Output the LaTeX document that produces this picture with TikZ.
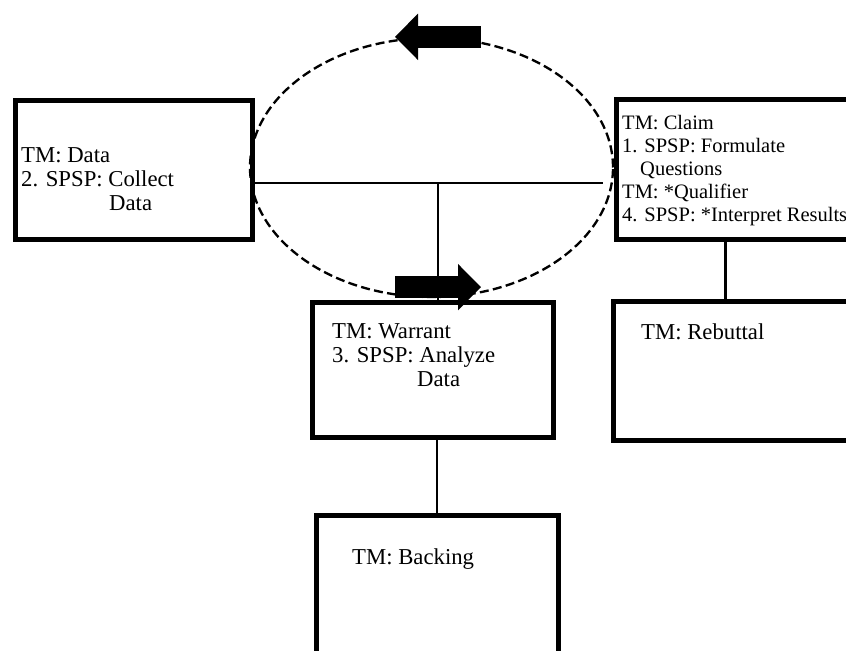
\documentclass[tikz,border=0pt]{standalone}
\usepackage{fontspec}
\setmainfont{Liberation Serif}
\usetikzlibrary{shapes.geometric, arrows.meta, calc}

\begin{document}
\begin{tikzpicture}[
    x=0.3mm, y=-0.3mm,
    tmbox/.style={rectangle, draw, line width=1.5mm, inner sep=0pt},
    tmtext/.style={anchor=north west, inner sep=0pt, align=left, font=\fontsize{19.4}{20.5}\selectfont},
    claimtext/.style={tmtext, font=\fontsize{17.5}{19.6}\selectfont},
    loopring/.style={ellipse, draw, line width=0.7mm, dash pattern=on 2.7mm off 1.3mm, inner sep=0pt},
    link/.style={line width=0.7mm},
    bigarrow/.style={line width=6.6mm, -{Triangle[length=6.9mm, width=13.5mm]}}
]

\useasboundingbox (0,0) rectangle (846,651);
\clip (0,0) rectangle (846,651);

% === Boxes ===
\node[tmbox, minimum width=70.8mm, minimum height=41.4mm] (data) at (134,170) {};
\node[tmbox, minimum width=85.2mm, minimum height=41.7mm] (claim) at (758,169.5) {};
\node[tmbox, minimum width=72.3mm, minimum height=40.5mm] (warrant) at (432.5,369.5) {};
\node[tmbox, minimum width=86.1mm, minimum height=41.7mm] (rebuttal) at (756.5,370.5) {};
\node[tmbox, minimum width=72.6mm, minimum height=44.85mm] (backing) at (437,590.25) {};

% Box texts
\node[tmtext] (datatxt) at (21,147) {TM: Data\\2. SPSP: Collect\\\hspace*{26.4mm}Data};
\node[claimtext] (claimtxt) at (622,115) {TM: Claim\\1. SPSP: Formulate\\\hspace*{5.4mm}Questions\\TM: *Qualifier\\4. SPSP: *Interpret Results};
\node[tmtext] (warranttxt) at (332,323) {TM: Warrant\\3. SPSP: Analyze\\\hspace*{25.5mm}Data};
\node[tmtext] (rebuttaltxt) at (641,323) {TM: Rebuttal};
\node[tmtext] (backingtxt) at (352,548) {TM: Backing};

% === Cycle ===
\node[loopring, minimum width=108.9mm, minimum height=77.7mm] (loop) at (431.5,167.5) {};

% Connectors
\coordinate (hub) at (438,183);
\draw[link, shorten >=3.3mm] (data.east |- hub) -- (claim.west |- hub);
\draw[link] (hub) -- (hub |- warrant.north);
\draw[link] (backing.north) -- (backing.north |- warrant.south);
\coordinate (rebtop) at ($(rebuttal.north west)+(115,0)$);
\draw[link] (rebtop) -- (rebtop |- claim.south);

% Cycle arrows
\draw[bigarrow] ($(loop.north)+(49.5,0)$) -- ($(loop.north)+(-36.5,0)$);
\draw[bigarrow] ($(loop.south)+(-36.5,-11)$) -- ($(loop.south)+(49.5,-11)$);

\end{tikzpicture}
\end{document}
